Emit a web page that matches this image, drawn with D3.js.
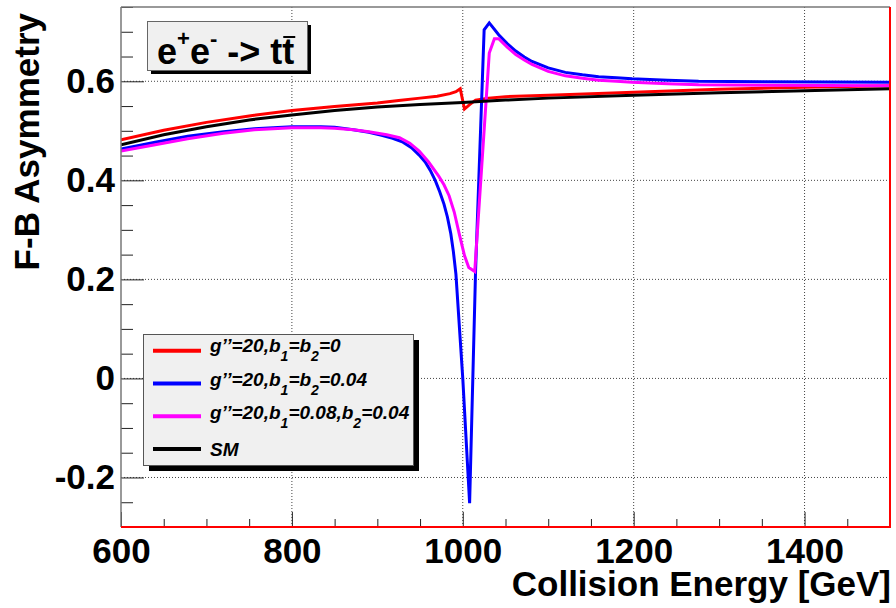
<!DOCTYPE html>
<html>
<head>
<meta charset="utf-8">
<script src="https://cdn.jsdelivr.net/npm/d3@7"></script>
<style>
  body { margin: 0; background: #fff; }
  text { font-family: "Liberation Sans", Arial, sans-serif; font-weight: bold; }
</style>
</head>
<body>
<svg width="896" height="608"></svg>
<script>
var width = 896
var height = 608
var plotLeft = 121, plotRight = 890, plotTop = 7, plotBottom = 527

// energies (GeV) and forward-backward asymmetry
var smEnergy = [600, 650, 700, 750, 800, 850, 900, 950, 1000, 1050, 1100, 1200, 1300, 1400, 1500]
var smAfb = [0.472, 0.492, 0.508, 0.522, 0.532, 0.541, 0.548, 0.553, 0.557, 0.562, 0.566, 0.572, 0.577, 0.581, 0.585]

var redEnergy = [600, 650, 700, 750, 800, 850, 900, 925, 950, 970, 985, 992, 997, 1002, 1008, 1015, 1030, 1050, 1100, 1200, 1300, 1400, 1500]
var redAfb = [0.482, 0.501, 0.517, 0.530, 0.541, 0.549, 0.556, 0.561, 0.566, 0.570, 0.575, 0.579, 0.585, 0.544, 0.553, 0.562, 0.566, 0.569, 0.572, 0.578, 0.584, 0.588, 0.591]

var blueEnergy = [600, 640, 678, 720, 756, 800, 834, 850, 872, 890, 905, 918, 930, 940, 949, 956, 962, 968, 973, 978, 982, 986, 989, 992,
    1000, 1008, 1015, 1025, 1031, 1042, 1052, 1062, 1072, 1081, 1100, 1120, 1140, 1159, 1180, 1198, 1240, 1276, 1350, 1500]
var blueAfb = [0.463, 0.477, 0.489, 0.498, 0.504, 0.508, 0.508, 0.507, 0.502, 0.497, 0.491, 0.485, 0.477, 0.466, 0.451, 0.437, 0.420, 0.399, 0.377, 0.352, 0.326, 0.292, 0.256, 0.210,
    0.0, -0.252, 0.219, 0.704, 0.718, 0.694, 0.676, 0.661, 0.649, 0.640, 0.627, 0.618, 0.613, 0.609, 0.607, 0.605, 0.602, 0.600, 0.599, 0.598]

var magEnergy = [600, 640, 678, 720, 756, 800, 834, 850, 872, 890, 911, 926, 938, 949, 960, 972, 978, 984, 990, 996, 1002, 1007, 1014,
    1031, 1037, 1042, 1052, 1062, 1072, 1081, 1100, 1120, 1140, 1159, 1180, 1198, 1240, 1276, 1350, 1500]
var magAfb = [0.459, 0.472, 0.484, 0.495, 0.502, 0.506, 0.506, 0.505, 0.502, 0.498, 0.492, 0.486, 0.475, 0.459, 0.437, 0.408, 0.391, 0.369, 0.336, 0.291, 0.248, 0.224, 0.216,
    0.657, 0.686, 0.686, 0.669, 0.654, 0.643, 0.634, 0.620, 0.611, 0.606, 0.602, 0.600, 0.598, 0.595, 0.593, 0.592, 0.591]

var xMajor = [600, 800, 1000, 1200, 1400]
var xMinor = [650, 700, 750, 850, 900, 950, 1050, 1100, 1150, 1250, 1300, 1350, 1450, 1500]
var yMajor = [-0.2, 0, 0.2, 0.4, 0.6]
var yMinor = [-0.25, -0.15, -0.1, -0.05, 0.05, 0.1, 0.15, 0.25, 0.3, 0.35, 0.45, 0.5, 0.55, 0.65, 0.7, 0.75]

var series = [
    { name: "red", color: "#ff0000", x: redEnergy, y: redAfb },
    { name: "blue", color: "#0000ff", x: blueEnergy, y: blueAfb },
    { name: "magenta", color: "#ff00ff", x: magEnergy, y: magAfb },
    { name: "sm", color: "#000000", x: smEnergy, y: smAfb }
]

var xScale = d3.scaleLinear().domain([600, 1500]).range([plotLeft, plotRight])
var yScale = d3.scaleLinear().domain([-0.3, 0.75]).range([plotBottom, plotTop])

var svg = d3.select("svg")

svg.append("defs").append("clipPath").attr("id", "plot")
    .append("rect")
    .attr("x", plotLeft).attr("y", plotTop)
    .attr("width", plotRight - plotLeft).attr("height", plotBottom - plotTop)

// dotted grid
svg.append("g").selectAll("line")
    .data(xMajor.slice(1))
    .enter().append("line")
    .attr("x1", d => xScale(d)).attr("x2", d => xScale(d))
    .attr("y1", plotTop).attr("y2", plotBottom)
    .attr("stroke", "#444").attr("stroke-dasharray", "1,2")

svg.append("g").selectAll("line")
    .data(yMajor)
    .enter().append("line")
    .attr("x1", plotLeft).attr("x2", plotRight)
    .attr("y1", d => yScale(d)).attr("y2", d => yScale(d))
    .attr("stroke", "#444").attr("stroke-dasharray", "1,2")

// curves
var line = d3.line()
    .x(d => xScale(d[0]))
    .y(d => yScale(d[1]))

svg.append("g").attr("clip-path", "url(#plot)")
    .selectAll("path")
    .data(series)
    .enter().append("path")
    .attr("d", s => line(d3.zip(s.x, s.y)))
    .attr("fill", "none")
    .attr("stroke", s => s.color)
    .attr("stroke-width", 3)
    .attr("stroke-linejoin", "miter")

// axes
var xAxis = d3.axisBottom(xScale)
    .tickValues(xMajor)
    .tickSize(-15)
    .tickPadding(11)
    .tickFormat(d => String(d))

var xAxisMinor = d3.axisBottom(xScale)
    .tickValues(xMinor)
    .tickSize(-8)
    .tickFormat("")

var yAxis = d3.axisLeft(yScale)
    .tickValues(yMajor)
    .tickSize(-23)
    .tickPadding(6)
    .tickFormat(d => d === 0 ? "0" : String(d))

var yAxisMinor = d3.axisLeft(yScale)
    .tickValues(yMinor)
    .tickSize(-12)
    .tickFormat("")

function styleAxis(g) {
    g.select(".domain").remove()
    g.selectAll("line").attr("stroke", "#222").attr("stroke-width", 1)
    g.selectAll("text")
        .attr("fill", "#000")
        .style("font-size", "35px")
        .style("font-family", "'Liberation Sans', Arial, sans-serif")
        .style("font-weight", "bold")
}

svg.append("g").attr("transform", `translate(0, ${plotBottom})`).call(xAxis).call(styleAxis)
svg.append("g").attr("transform", `translate(0, ${plotBottom})`).call(xAxisMinor).call(styleAxis)
svg.append("g").attr("transform", `translate(${plotLeft}, 0)`).call(yAxis).call(styleAxis)
svg.append("g").attr("transform", `translate(${plotLeft}, 0)`).call(yAxisMinor).call(styleAxis)

// frame: grey top/left, red right/bottom
svg.append("line").attr("x1", plotLeft).attr("x2", plotRight).attr("y1", plotTop).attr("y2", plotTop)
    .attr("stroke", "#777").attr("stroke-width", 1.5)
svg.append("line").attr("x1", plotLeft).attr("x2", plotLeft).attr("y1", plotTop).attr("y2", plotBottom)
    .attr("stroke", "#777").attr("stroke-width", 1.5)
svg.append("line").attr("x1", plotRight).attr("x2", plotRight).attr("y1", plotTop).attr("y2", plotBottom + 1)
    .attr("stroke", "#ff0000").attr("stroke-width", 2)
svg.append("line").attr("x1", plotLeft).attr("x2", plotRight + 1).attr("y1", plotBottom).attr("y2", plotBottom)
    .attr("stroke", "#ff0000").attr("stroke-width", 2)

// axis titles
svg.append("text")
    .attr("transform", "translate(38.5, 13) rotate(-90)")
    .style("text-anchor", "end")
    .style("font-size", "35px")
    .text("F-B Asymmetry")

svg.append("text")
    .attr("x", 891)
    .attr("y", 596)
    .style("text-anchor", "end")
    .style("font-size", "35px")
    .text("Collision Energy [GeV]")

// title box
svg.append("rect").attr("x", 151).attr("y", 25).attr("width", 160).attr("height", 49).attr("fill", "#000")
svg.append("rect").attr("x", 147.5).attr("y", 21.5).attr("width", 160).attr("height", 49)
    .attr("fill", "#f0f0f0").attr("stroke", "#666").attr("stroke-width", 1)

var title = svg.append("text").attr("x", 157).attr("y", 64).style("font-size", "36px")
title.append("tspan").text("e")
title.append("tspan").attr("dy", -18).style("font-size", "22px").text("+")
title.append("tspan").attr("dy", 18).text("e")
title.append("tspan").attr("dy", -18).style("font-size", "22px").text("-")
title.append("tspan").attr("dy", 18).text(" -> tt")

var lastChar = title.node().getExtentOfChar(title.node().getNumberOfChars() - 1)
svg.append("line")
    .attr("x1", lastChar.x + 1).attr("x2", lastChar.x + lastChar.width + 1)
    .attr("y1", 37).attr("y2", 37)
    .attr("stroke", "#000").attr("stroke-width", 2)

// legend
var legendLabels = [
    [["g’’=20,b", 0], ["1", 1], ["=b", 0], ["2", 1], ["=0", 0]],
    [["g’’=20,b", 0], ["1", 1], ["=b", 0], ["2", 1], ["=0.04", 0]],
    [["g’’=20,b", 0], ["1", 1], ["=0.08,b", 0], ["2", 1], ["=0.04", 0]],
    [["SM", 0]]
]
var legendY = [350.7, 383.5, 416.3, 449]
var legendDy = [1.5, 2.5, 3, 7]

svg.append("rect").attr("x", 149).attr("y", 340).attr("width", 270).attr("height", 131).attr("fill", "#000")
svg.append("rect").attr("x", 143.5).attr("y", 334.5).attr("width", 270).attr("height", 131)
    .attr("fill", "#f0f0f0").attr("stroke", "#555").attr("stroke-width", 1)

var entries = svg.append("g").selectAll("g")
    .data(series)
    .enter().append("g")

entries.append("line")
    .attr("x1", 153).attr("x2", 201)
    .attr("y1", (d, i) => legendY[i]).attr("y2", (d, i) => legendY[i])
    .attr("stroke", d => d.color).attr("stroke-width", 4)

entries.each(function (d, i) {
    var t = d3.select(this).append("text")
        .attr("x", 210)
        .attr("y", legendY[i] + legendDy[i])
        .style("font-size", "19px")
        .style("font-style", "italic")
    var shifted = 0
    legendLabels[i].forEach(function (part) {
        var ts = t.append("tspan").text(part[0])
        if (part[1]) {
            ts.attr("dy", 9).style("font-size", "14px")
            shifted = 9
        } else if (shifted) {
            ts.attr("dy", -shifted)
            shifted = 0
        }
    })
})
</script>
</body>
</html>
